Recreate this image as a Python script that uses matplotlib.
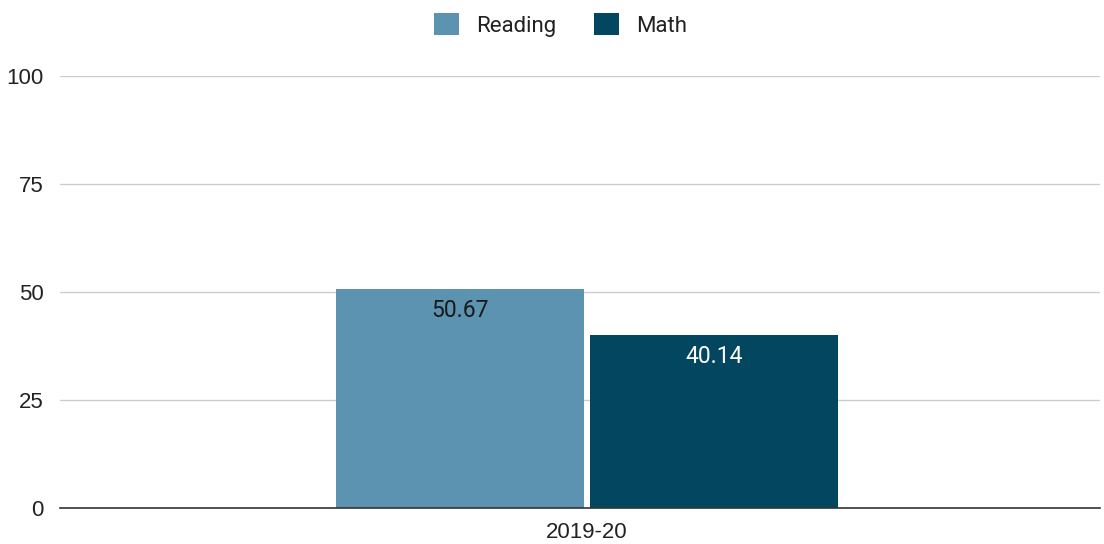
import matplotlib.pyplot as plt
import numpy as np

categories = ['2019-20']
series_names = ['Reading', 'Math']
values = [50.67, 40.14]
colors = ['#5b93b0', '#03465f']
label_colors = ['#1a1a1a', '#ffffff']
yticks = [0, 25, 50, 75, 100]

fig = plt.figure(figsize=(11.04, 5.44), dpi=100)
ax = fig.add_axes([60 / 1104, 36 / 544, 1040 / 1104, 432 / 544])

width = 0.2385
gap = 0.006
offsets = [-(width + gap) / 2, (width + gap) / 2]
for name, val, col, lc, off in zip(series_names, values, colors, label_colors, offsets):
    ax.bar(off, val, width=width, color=col, label=name, zorder=3)
    ax.text(off, val - 2.4, f'{val:.2f}', ha='center', va='top',
            color=lc, fontsize=16.5, family='Roboto', zorder=4)

ax.set_xlim(-0.5067, 0.4933)
ax.set_ylim(0, 100)
ax.set_yticks(yticks)
ax.set_yticklabels([str(t) for t in yticks], fontsize=16, family='Liberation Sans', color='#222222')
ax.set_xticks([0])
ax.set_xticklabels(categories, fontsize=16, family='Liberation Sans', color='#222222')
ax.tick_params(axis='y', length=0, pad=12)
ax.tick_params(axis='x', length=0, pad=10)
ax.grid(axis='y', color='#cccccc', linewidth=1, zorder=0)
for s in ['top', 'right', 'left']:
    ax.spines[s].set_visible(False)
ax.spines['bottom'].set_color('#333333')
ax.spines['bottom'].set_linewidth(1.2)
ax.spines['bottom'].set_zorder(5)

leg = fig.legend(loc='upper center', bbox_to_anchor=(0.508, 1.012), ncol=2, frameon=False,
                 prop={'family': 'Roboto', 'size': 16}, handlelength=1.1, handleheight=1.1,
                 columnspacing=1.7, handletextpad=0.8)
for t in leg.get_texts():
    t.set_color('#222222')

fig.savefig('out.png', dpi=100)
